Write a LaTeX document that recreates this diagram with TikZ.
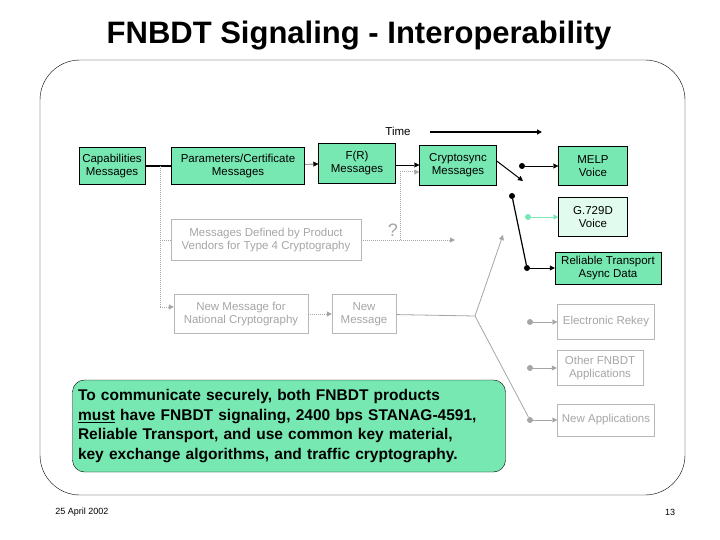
\documentclass[tikz,border=0pt]{standalone}
\usepackage{fontspec}
\setmainfont{Liberation Sans}
\usetikzlibrary{arrows.meta}
\definecolor{mint}{RGB}{120,232,178}
\definecolor{pale}{RGB}{225,252,238}
\definecolor{gr}{RGB}{165,165,165}
\begin{document}
\begin{tikzpicture}[x=1pt,y=-1pt,
  box/.style={draw=black,fill=mint,align=center,inner sep=0,font=\fontsize{11.5}{13.5}\selectfont},
  gbox/.style={draw=gr!80,text=gr,align=center,inner sep=0,font=\fontsize{11.5}{13.5}\selectfont},
  arr/.style={-{Triangle[length=5pt,width=5pt]}},
  dot/.style={circle,fill,inner sep=0,minimum size=6pt},
  dots/.style={densely dotted,gr,line width=1pt}]
\useasboundingbox (0,0) rectangle (720,540);
\node[font=\bfseries\fontsize{31}{34}\selectfont] (title) at (359,36) {FNBDT Signaling - Interoperability};
\draw[rounded corners=40pt] (40,60) rectangle (685,495);
\node[font=\fontsize{11.5}{13.5}\selectfont] (time) at (398,131) {Time};
\coordinate (t1) at (430,132); \coordinate (t2) at (542,132);
\draw[line width=1.5pt,arr] (t1) -- (t2);
% boxes
\node[box,minimum width=66pt,minimum height=37pt] (cap) at (112,166) {Capabilities\\Messages};
\node[box,minimum width=133pt,minimum height=37pt] (par) at (238,166) {Parameters/Certificate\\Messages};
\node[box,minimum width=77pt,minimum height=40pt] (fr) at (357,163) {F(R)\\Messages};
\node[box,minimum width=77pt,minimum height=40pt] (cs) at (458,165) {Cryptosync\\Messages};
\node[box,minimum width=69pt,minimum height=39pt] (melp) at (593,166) {MELP\\Voice};
\node[box,fill=pale,minimum width=69pt,minimum height=39pt] (g729) at (593,217) {G.729D\\Voice};
\node[box,minimum width=106pt,minimum height=32pt] (rel) at (608,268) {Reliable Transport\\Async Data};
\node[gbox,minimum width=97pt,minimum height=35pt] (rekey) at (606,322) {Electronic Rekey};
\node[gbox,minimum width=86pt,minimum height=35pt] (other) at (600,368) {Other FNBDT\\Applications};
\node[gbox,minimum width=97pt,minimum height=32pt] (newapp) at (606,420) {New Applications};
\node[gbox,minimum width=190pt,minimum height=41pt] (mdef) at (266,240) {Messages Defined by Product\\Vendors for Type 4 Cryptography};
\node[gbox,minimum width=134pt,minimum height=39pt] (nmn) at (241,314) {New Message for\\National Cryptography};
\node[gbox,minimum width=64pt,minimum height=39pt] (nm) at (364,314) {New\\Message};
\node[text=gr,font=\fontsize{18}{20}\selectfont] (q) at (393,230) {?};
\node[draw=black,fill=mint,rounded corners=12pt,minimum width=433pt,minimum height=92pt,text width=422pt,align=left,font=\bfseries\fontsize{15.5}{19.5}\selectfont] (msg) at (289,426)
 {To communicate securely, both FNBDT products\\\underline{must} have FNBDT signaling, 2400 bps STANAG-4591,\\Reliable Transport,  and use common key material,\\key exchange algorithms, and traffic cryptography.};
\node[font=\fontsize{9}{11}\selectfont] (date) at (82,512) {25 April 2002};
\node[font=\fontsize{9}{11}\selectfont] (pg) at (670,512) {13};
% black connectors
\draw[line width=1.5pt] (cap) -- (par);
\draw[arr] (par) -- (fr);
\draw[arr] (fr.east |- cs.west) -- (cs);
\coordinate (csend) at (523,181);
\draw[line width=1pt,arr] (cs.east) ++(0,-4) -- (csend);
\node[dot] (d1) at (512,196) {};
\node[dot] (d2) at (527,268) {};
\draw[line width=1.2pt] (d1) -- (d2);
\draw[arr] (d2) -- (rel);
\node[dot] (dm) at (522,166) {};
\draw[arr] (dm) -- (melp);
\node[dot,mint] (dg) at (528,217) {};
\draw[arr,mint] (dg) -- (g729);
\node[dot,gr] (dr) at (530,322) {};
\draw[arr,gr] (dr) -- (rekey);
\node[dot,gr] (do) at (530,368) {};
\draw[arr,gr] (do) -- (other);
\node[dot,gr] (dn) at (530,420) {};
\draw[arr,gr] (dn) -- (newapp);
% gray branch
\coordinate (br) at (475,316); \coordinate (up) at (503,235);
\draw[gr,line width=0.8pt] (nm) -- (br) -- (dn);
\draw[gr,line width=0.8pt,arr] (br) -- (up);
% dotted
\coordinate (j) at (160,166); \coordinate (jb) at (160,307);
\draw[dots] (j) -- (jb);
\draw[dots] (160,240) -- (mdef.west);
\draw[dots,arr] (jb) -- (nmn.west |- jb);
\draw[dots,arr] (nmn) -- (nm);
\coordinate (m2) at (455,240); \coordinate (v) at (400,240);
\draw[dots,arr] (mdef) -- (m2);
\draw[dots,arr] (v) -- (400,172) -- (cs.west |- 0,172);
\end{tikzpicture}
\end{document}
